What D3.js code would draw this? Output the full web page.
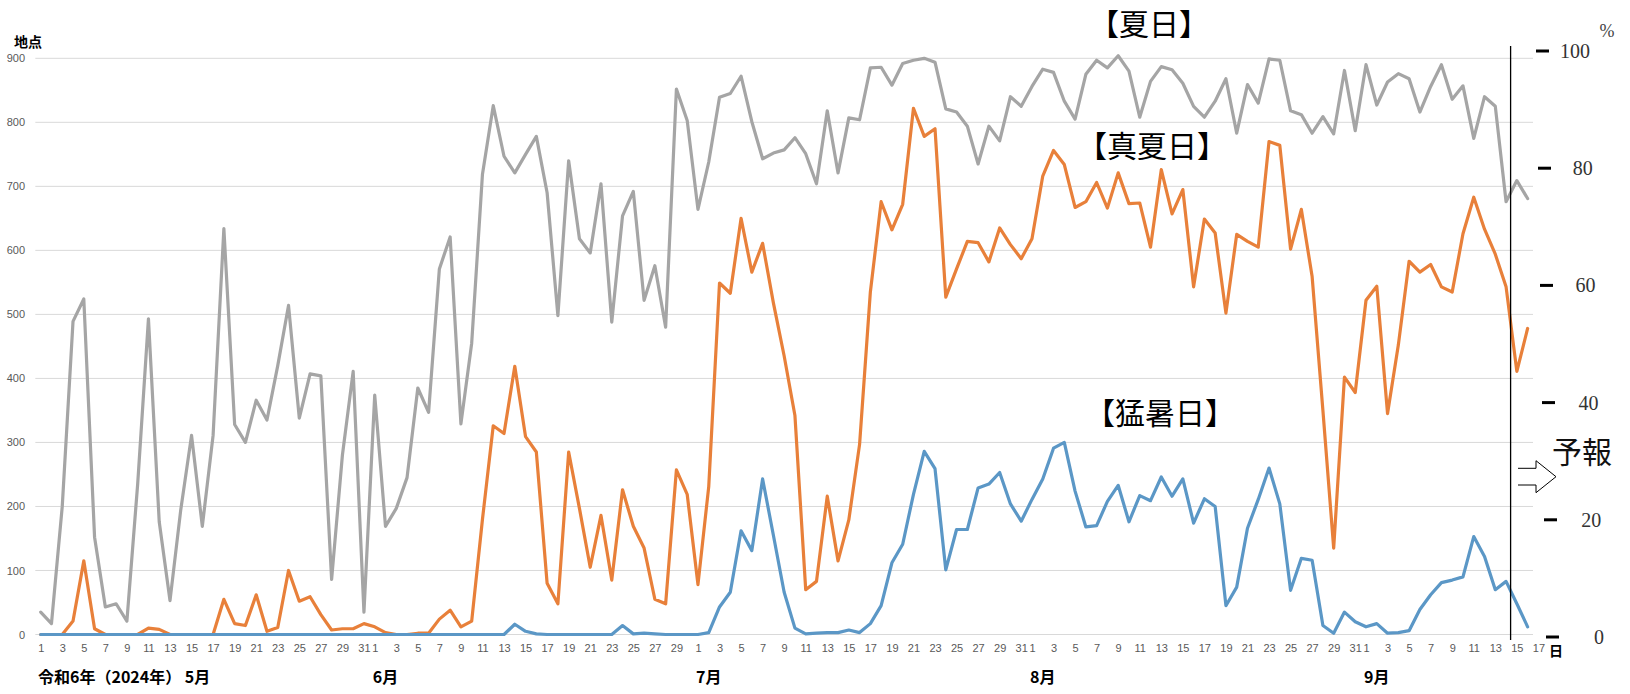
<!DOCTYPE html>
<html>
<head>
<meta charset="utf-8">
<script src="https://cdn.jsdelivr.net/npm/d3@7"></script>
<style>
  html, body { margin: 0; padding: 0; background: #fff; }
  svg { display: block; }
</style>
</head>
<body>
<svg id="chart" width="1630" height="694"></svg>
<script>
// ---------- DATA ----------
const monthDays = [31, 30, 31, 31, 17];          // May 1 .. Sep 17 (axis)
const monthLabels = ["令和6年（2024年） 5月", "6月", "7月", "8月", "9月"];
const yTicksLeft = [0, 100, 200, 300, 400, 500, 600, 700, 800, 900];
const yTicksRight = [0, 20, 40, 60, 80, 100];
const seriesNames = ["【夏日】", "【真夏日】", "【猛暑日】"];

// 夏日 (gray), May 1 .. Sep 16
const natsubi = [
  35, 17, 200, 489, 524, 152, 43, 48, 21, 235, 493, 176, 53, 195, 311, 169, 311, 634, 328, 300, 366, 335, 420, 514, 338, 407, 404, 86, 280, 411, 35,
  374, 169, 197, 245, 385, 347, 571, 621, 329, 455, 719, 826, 747, 721, 750, 778, 690, 498, 740, 618, 596, 704, 488, 654, 692, 522, 576, 480, 852, 803,
  664, 738, 839, 845, 872, 801, 743, 752, 757, 776, 751, 704, 818, 721, 807, 804, 885, 886, 858, 892, 897, 900, 894, 821, 816, 794, 735, 794, 771, 840, 825,
  856, 883, 878, 833, 805, 875, 897, 885, 904, 880, 808, 864, 887, 882, 861, 825, 808, 833, 868, 783, 859, 830, 899, 897, 818, 812, 783, 809, 782, 881, 787,
  890, 827, 863, 876, 868, 816, 856, 890, 836, 857, 775, 840, 825, 676, 709, 681
];
// 真夏日 (orange)
const manatsubi = [
  0, 0, 0, 21, 115, 9, 0, 0, 0, 0, 10, 8, 0, 0, 0, 0, 0, 55, 17, 14, 62, 5, 11, 100, 52, 59, 31, 7, 9, 9, 17,
  12, 3, 0, 0, 2, 2, 24, 38, 12, 21, 180, 326, 314, 419, 309, 285, 80, 48, 285, 197, 105, 186, 85, 226, 169, 135, 55, 48, 257, 219,
  78, 231, 549, 533, 650, 566, 611, 518, 435, 342, 70, 83, 216, 115, 179, 297, 535, 676, 632, 672, 822, 778, 790, 527, 571, 614, 612, 582, 635, 609, 587,
  618, 716, 756, 734, 667, 676, 706, 666, 721, 673, 674, 605, 726, 657, 695, 543, 649, 627, 502, 625, 614, 605, 770, 764, 602, 664, 559, 350, 135, 402, 378,
  522, 544, 345, 452, 583, 566, 578, 543, 535, 626, 683, 633, 594, 543, 411, 478
];
// 猛暑日 (blue)
const moushobi = [
  0, 0, 0, 0, 0, 0, 0, 0, 0, 0, 0, 0, 0, 0, 0, 0, 0, 0, 0, 0, 0, 0, 0, 0, 0, 0, 0, 0, 0, 0, 0,
  0, 0, 0, 0, 0, 0, 0, 0, 0, 0, 0, 0, 0, 16, 5, 1, 0, 0, 0, 0, 0, 0, 0, 14, 1, 2, 1, 0, 0, 0,
  0, 3, 43, 66, 162, 131, 243, 155, 66, 10, 1, 2, 3, 3, 7, 3, 17, 45, 112, 141, 219, 286, 259, 101, 164, 164, 229, 235, 253, 204, 177,
  211, 243, 291, 300, 224, 168, 170, 208, 233, 176, 217, 209, 246, 216, 243, 174, 212, 200, 45, 74, 166, 211, 260, 204, 69, 119, 116, 14, 2, 35, 20,
  12, 17, 2, 3, 6, 39, 62, 81, 85, 90, 153, 122, 70, 83, 48, 12
];
const forecastAfter = "9-14"; // forecast starts after Sep 14

// ---------- BUILD ----------
const categories = [];
monthDays.forEach((n, mi) => {
  for (let d = 1; d <= n; d++) categories.push({ key: (mi + 5) + "-" + d, m: mi, d: d });
});
const keys = categories.map(c => c.key);

const svg = d3.select("#chart");
const W = 1630, H = 694;
svg.append("rect").attr("width", W).attr("height", H).attr("fill", "#fff");

const x = d3.scalePoint().domain(keys).range([40.7, 1538.4]);
const step = x.step();
const y = d3.scaleLinear().domain([0, 900]).range([634.5, 58.3]);
const yR = d3.scaleLinear().domain([0, 100]).range([637, 51]);

const plotLeft = x(keys[0]) - step / 2;
const gridRight = 1533;

// gridlines
svg.append("g").selectAll("line").data(yTicksLeft).join("line")
  .attr("x1", plotLeft).attr("x2", gridRight)
  .attr("y1", d => y(d)).attr("y2", d => y(d))
  .attr("stroke", "#d9d9d9").attr("stroke-width", 1);

// left axis labels
const gLeft = svg.append("g").attr("transform", "translate(25,0)")
  .call(d3.axisLeft(y).tickValues(yTicksLeft).tickSize(0).tickPadding(0));
gLeft.select(".domain").remove();
gLeft.selectAll("text").attr("font-family", "Liberation Sans, Arial, sans-serif")
  .attr("font-size", 11).attr("fill", "#595959");

svg.append("text").text("地点").attr("x", 28).attr("y", 42).attr("dy", "0.35em")
  .attr("text-anchor", "middle").attr("font-family", "Noto Sans CJK JP")
  .attr("font-weight", "bold").attr("font-size", 14).attr("fill", "#000");

// x axis labels (odd days)
const oddKeys = categories.filter(c => c.d % 2 === 1).map(c => c.key);
const gX = svg.append("g").attr("transform", "translate(0,644)")
  .call(d3.axisBottom(x).tickValues(oddKeys).tickSize(0).tickPadding(0)
    .tickFormat(k => k.split("-")[1]));
gX.select(".domain").remove();
gX.selectAll("text").attr("font-family", "Liberation Sans, Arial, sans-serif")
  .attr("font-size", 11).attr("fill", "#595959").attr("dy", "0.71em");

svg.append("text").text("日").attr("x", 1556).attr("y", 651).attr("dy", "0.35em")
  .attr("text-anchor", "middle").attr("font-family", "Noto Sans CJK JP")
  .attr("font-weight", "bold").attr("font-size", 14).attr("fill", "#000");

// month labels
svg.append("g").selectAll("text").data(monthLabels).join("text")
  .text(d => d)
  .attr("x", (d, i) => i === 0 ? 38 : x((i + 5) + "-2"))
  .attr("text-anchor", (d, i) => i === 0 ? "start" : "middle")
  .attr("y", 677).attr("dy", "0.35em")
  .attr("font-family", "Noto Sans CJK JP").attr("font-weight", "bold")
  .attr("font-size", 16).attr("fill", "#000");

// lines
const line = d3.line().x((d, i) => x(keys[i])).y(d => y(d));
const seriesData = [natsubi, manatsubi, moushobi];
const colors = ["#a5a5a5", "#e8803a", "#5b97c6"];
svg.append("g").selectAll("path").data(seriesData).join("path")
  .attr("d", d => line(d))
  .attr("fill", "none")
  .attr("stroke", (d, i) => colors[i])
  .attr("stroke-width", 3.2)
  .attr("stroke-linejoin", "round")
  .attr("stroke-linecap", "round");

// series labels
const labelPos = [[1149, 24], [1152, 146], [1160, 413]];
svg.append("g").selectAll("text").data(seriesNames).join("text")
  .text(d => d)
  .attr("x", (d, i) => labelPos[i][0]).attr("y", (d, i) => labelPos[i][1])
  .attr("dy", "0.35em").attr("text-anchor", "middle")
  .attr("font-family", "Noto Sans CJK JP").attr("font-size", 30).attr("fill", "#000");

// forecast divider
const vx = x(forecastAfter) + step * 0.42;
svg.append("line").attr("x1", vx).attr("x2", vx).attr("y1", 46).attr("y2", 640)
  .attr("stroke", "#000").attr("stroke-width", 1.3);

// arrow (hollow)
svg.append("path")
  .attr("d", "M1518,468.3 L1536,468.3 L1536,460.7 L1556,476.7 L1536,492.7 L1536,485 L1518,485")
  .attr("fill", "#fff").attr("stroke", "#000").attr("stroke-width", 1);

svg.append("text").text("予報").attr("x", 1582).attr("y", 452).attr("dy", "0.35em")
  .attr("text-anchor", "middle").attr("font-family", "Noto Sans CJK JP")
  .attr("font-size", 30).attr("fill", "#111");

// right axis (percent)
const gR = svg.append("g");
gR.selectAll("line").data(yTicksRight).join("line")
  .attr("x1", d => 1536 + (100 - d) * 0.1).attr("x2", d => 1549 + (100 - d) * 0.1)
  .attr("y1", d => yR(d)).attr("y2", d => yR(d))
  .attr("stroke", "#000").attr("stroke-width", 3);
gR.selectAll("text").data(yTicksRight).join("text")
  .text(d => d)
  .attr("x", d => 1590 + (100 - d) * 0.14).attr("y", d => yR(d)).attr("dy", "0.35em")
  .attr("text-anchor", "end").attr("font-family", "Liberation Serif, serif")
  .attr("font-size", 20).attr("fill", "#333");
svg.append("text").text("%").attr("x", 1607).attr("y", 31).attr("dy", "0.35em")
  .attr("text-anchor", "middle").attr("font-family", "Liberation Serif, serif")
  .attr("font-size", 18).attr("fill", "#444");
</script>
</body>
</html>
